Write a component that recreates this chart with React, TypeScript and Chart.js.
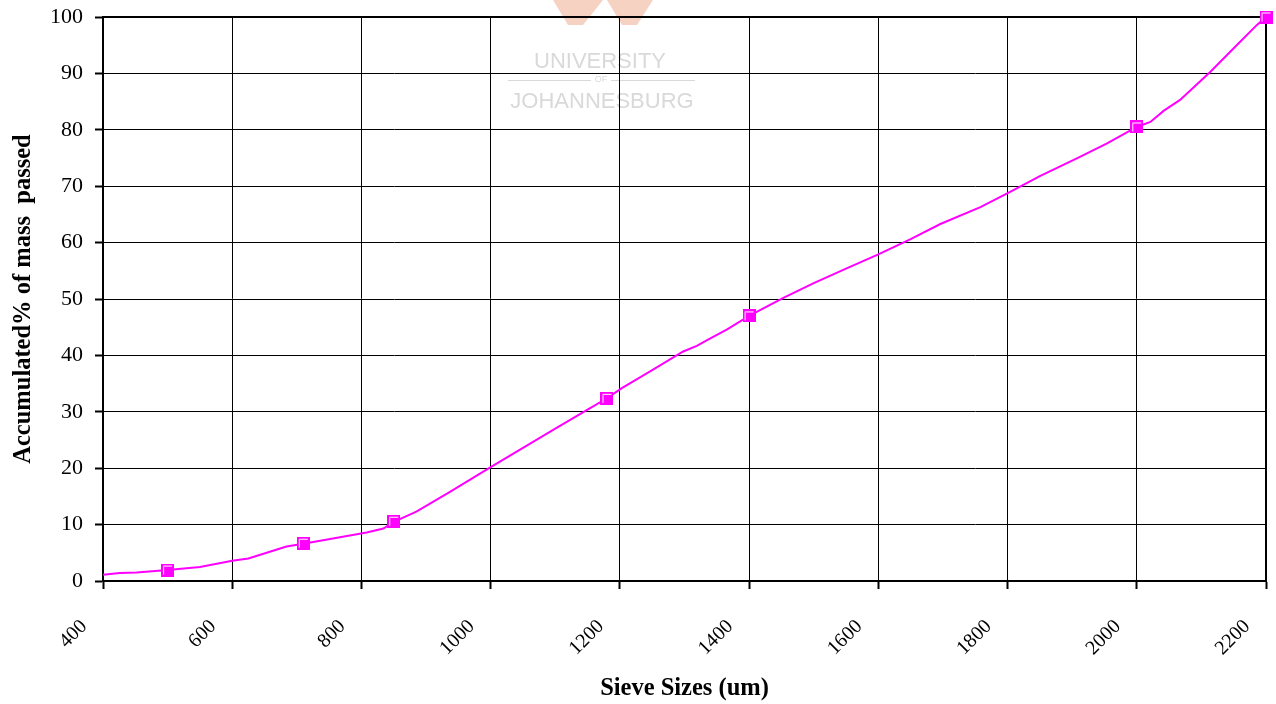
import React, { useEffect, useRef } from "react";
import { Chart, registerables } from "chart.js";

Chart.register(...registerables);

// Continuous grading curve
const curveSizes = [400, 426, 452, 500, 550, 600, 625, 684, 710, 808, 834, 850, 885, 937, 1000, 1050, 1100, 1150, 1180, 1203, 1250, 1298, 1319, 1335, 1366, 1400, 1453, 1500, 1550, 1600, 1650, 1696, 1758, 1804, 1850, 1912, 1954, 2000, 2021, 2042, 2067, 2114, 2160, 2186, 2200];
const curvePassed = [1.1, 1.4, 1.5, 1.95, 2.5, 3.6, 4.0, 6.1, 6.6, 8.6, 9.3, 10.5, 12.3, 15.8, 20.2, 23.6, 27.0, 30.4, 32.4, 34.2, 37.4, 40.7, 41.7, 42.7, 44.6, 47.0, 50.2, 52.8, 55.4, 57.9, 60.6, 63.3, 66.3, 69.0, 71.8, 75.2, 77.6, 80.5, 81.4, 83.4, 85.3, 90.3, 95.6, 98.6, 100];

// Sieve measurements (markers)
const sieveSizes = [500, 710, 850, 1180, 1400, 2000, 2200];
const sievePassed = [1.95, 6.7, 10.6, 32.4, 47.0, 80.5, 100];

const xTicks = [400, 600, 800, 1000, 1200, 1400, 1600, 1800, 2000, 2200];
const yTicks = [0, 10, 20, 30, 40, 50, 60, 70, 80, 90, 100];

const xTitle = "Sieve Sizes (um)";
const yTitle = "Accumulated% of mass  passed";

const MAGENTA = "#FF00FF";
const SERIF = "'Liberation Serif', 'Times New Roman', serif";

function makeMarker(): HTMLCanvasElement {
  const c = document.createElement("canvas");
  c.width = 13;
  c.height = 13;
  const g = c.getContext("2d")!;
  g.fillStyle = MAGENTA;
  g.fillRect(0, 0, 13, 13);
  g.strokeStyle = "#ffffff";
  g.lineWidth = 1;
  g.beginPath();
  g.moveTo(2.5, 11);
  g.lineTo(2.5, 2.5);
  g.lineTo(11, 2.5);
  g.stroke();
  return c;
}

const watermark = {
  id: "watermark",
  beforeDraw(chart: any) {
    const ctx = chart.ctx;
    ctx.save();
    ctx.fillStyle = "#f6d2c2";
    ctx.beginPath();
    ctx.moveTo(553, 0);
    ctx.lineTo(603, 0);
    ctx.lineTo(583, 25);
    ctx.lineTo(568, 25);
    ctx.closePath();
    ctx.moveTo(607, 0);
    ctx.lineTo(653, 0);
    ctx.lineTo(637, 25);
    ctx.lineTo(622, 25);
    ctx.closePath();
    ctx.fill();
    ctx.fillStyle = "#d9d9d9";
    ctx.strokeStyle = "#d9d9d9";
    ctx.textAlign = "center";
    ctx.textBaseline = "alphabetic";
    ctx.font = "22px 'Liberation Sans', Arial, sans-serif";
    ctx.fillText("UNIVERSITY", 600, 68);
    ctx.fillText("JOHANNESBURG", 602, 108);
    ctx.font = "9px 'Liberation Sans', Arial, sans-serif";
    ctx.textBaseline = "middle";
    ctx.fillText("OF", 601, 80);
    ctx.lineWidth = 1;
    ctx.beginPath();
    ctx.moveTo(508, 80.5);
    ctx.lineTo(591, 80.5);
    ctx.moveTo(611, 80.5);
    ctx.lineTo(695, 80.5);
    ctx.stroke();
    ctx.restore();
  },
};

const frame = {
  id: "frame",
  beforeDatasetsDraw(chart: any) {
    const { ctx, chartArea } = chart;
    ctx.save();
    ctx.strokeStyle = "#000";
    ctx.lineWidth = 2;
    ctx.strokeRect(chartArea.left, chartArea.top, chartArea.right - chartArea.left, chartArea.bottom - chartArea.top);
    ctx.restore();
  },
};

export default function App() {
  const ref = useRef<HTMLCanvasElement>(null);

  useEffect(() => {
    const marker = makeMarker();
    const chart = new Chart(ref.current!, {
      type: "scatter",
      data: {
        datasets: [
          {
            label: "curve",
            data: curveSizes.map((x, i) => ({ x, y: curvePassed[i] })),
            showLine: true,
            borderColor: MAGENTA,
            borderWidth: 2,
            pointRadius: 0,
            tension: 0,
            order: 2,
          },
          {
            label: "sieves",
            data: sieveSizes.map((x, i) => ({ x, y: sievePassed[i] })),
            showLine: false,
            pointStyle: marker as any,
            pointRadius: 6,
            backgroundColor: MAGENTA,
            borderColor: MAGENTA,
            order: 1,
          },
        ],
      },
      options: {
        animation: false,
        responsive: false,
        devicePixelRatio: 1,
        clip: false as any,
        layout: { padding: { left: 0, top: 17, right: 10, bottom: 0 } },
        plugins: {
          legend: { display: false },
          tooltip: { enabled: false },
        },
        scales: {
          x: {
            type: "linear",
            min: 400,
            max: 2200,
            afterBuildTicks: (s: any) => {
              s.ticks = xTicks.map((v) => ({ value: v }));
            },
            afterFit: (s: any) => {
              s.height = 123;
              s.paddingLeft = 0;
              s.paddingRight = 0;
              s.paddingTop = 0;
              s.paddingBottom = 0;
            },
            grid: { color: "#000", lineWidth: 1, tickLength: 8, tickColor: "#000", tickWidth: 2 },
            border: { color: "#000", width: 2 },
            ticks: {
              autoSkip: false,
              minRotation: 45,
              maxRotation: 45,
              padding: 26,
              labelOffset: -19,
              color: "#000",
              font: { family: SERIF, size: 20, lineHeight: 1.2 },
              callback: (v: any) => String(v),
            },
            title: {
              display: true,
              text: xTitle,
              color: "#000",
              font: { family: SERIF, size: 24.5, weight: "bold", lineHeight: 1.2 },
              padding: { top: 0, bottom: 1 },
            },
          },
          y: {
            type: "linear",
            min: 0,
            max: 100,
            afterBuildTicks: (s: any) => {
              s.ticks = yTicks.map((v) => ({ value: v }));
            },
            afterFit: (s: any) => {
              s.width = 103;
              s.paddingLeft = 0;
              s.paddingRight = 0;
              s.paddingTop = 0;
              s.paddingBottom = 0;
            },
            grid: { color: "#000", lineWidth: 1, tickLength: 8, tickColor: "#000", tickWidth: 2 },
            border: { color: "#000", width: 2 },
            ticks: {
              padding: 12,
              color: "#000",
              font: { family: SERIF, size: 22, lineHeight: 1.2 },
              callback: (v: any) => String(v),
            },
            title: {
              display: true,
              text: yTitle,
              color: "#000",
              font: { family: SERIF, size: 24.5, weight: "bold", lineHeight: 1.2 },
              padding: { top: 9, bottom: 0 },
            },
          },
        },
      },
      plugins: [watermark, frame],
    });
    return () => chart.destroy();
  }, []);

  return (
    <div style={{ position: "fixed", left: 0, top: 0, width: 1276, height: 704, background: "#fff" }}>
      <canvas ref={ref} width={1276} height={704} />
    </div>
  );
}
